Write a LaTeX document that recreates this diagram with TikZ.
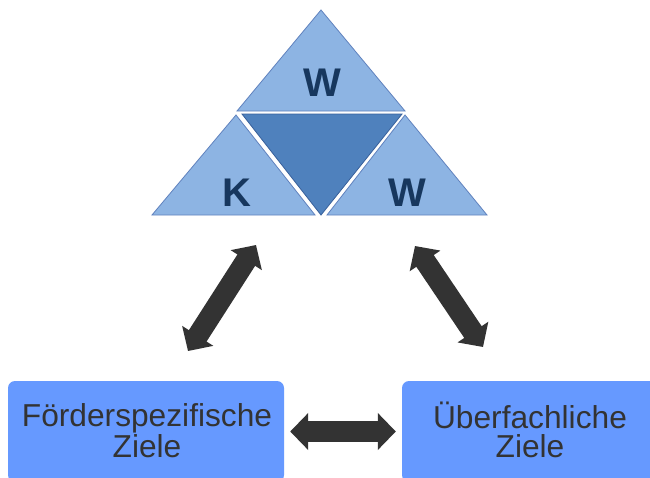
\documentclass[tikz,border=0pt]{standalone}
\usepackage{fontspec}
\setmainfont{Liberation Sans}
\usetikzlibrary{arrows.meta}
\definecolor{trilight}{RGB}{141,180,227}
\definecolor{trilightedge}{RGB}{96,130,190}
\definecolor{tridark}{RGB}{79,129,189}
\definecolor{tridarkedge}{RGB}{56,96,155}
\definecolor{letter}{RGB}{23,55,94}
\definecolor{boxblue}{RGB}{102,153,255}
\definecolor{arrowgrey}{RGB}{51,51,51}
\definecolor{textgrey}{RGB}{51,51,51}
\tikzset{
  lighttri/.style={fill=trilight, draw=trilightedge, line width=0.8pt, line join=miter},
  darktri/.style={fill=tridark, draw=tridarkedge, line width=0.8pt, line join=miter},
  letterlabel/.style={font=\fontsize{40}{40}\selectfont\bfseries, text=letter, inner sep=0pt},
  goalbox/.style={fill=boxblue, rounded corners=7pt, minimum height=101pt, inner sep=0pt},
  goaltext/.style={font=\fontsize{31.7}{29.4}\selectfont, text=textgrey, align=center, inner sep=0pt, anchor=base},
  blockarrow/.style={draw=arrowgrey, line width=21pt,
    {Triangle[width=36pt,length=18pt]}-{Triangle[width=36pt,length=18pt]}, fill=arrowgrey}
}
\begin{document}
\begin{tikzpicture}[x=1pt,y=-1pt]
\useasboundingbox (0,0) rectangle (650,477);
\fill[white] (0,0) rectangle (650,477);
% triangles
\draw[lighttri] (321,10) -- (405,111) -- (237,111) -- cycle;
\draw[lighttri] (236,115) -- (315,215) -- (152,215) -- cycle;
\draw[lighttri] (405,115) -- (487,215) -- (327,215) -- cycle;
\draw[darktri] (242,114) -- (402,114) -- (321,215) -- cycle;
\node[letterlabel] (wtop) at (322,83) {W};
\node[letterlabel] (kleft) at (237,193) {K};
\node[letterlabel] (wright) at (407,193) {W};
% boxes
\node[goalbox, minimum width=276pt] (fs) at (146,431.5) {};
\node[goalbox, minimum width=256pt] (uf) at (530,431.5) {};
\node[goaltext] (fstext) at (147,457.5) {Förderspezifische\\Ziele};
\node[goaltext] (uftext) at (530,457.5) {Überfachliche\\Ziele};
% arrow end points
\coordinate (l1) at (188,351);
\coordinate (l2) at (256,245);
\coordinate (r1) at (415,246);
\coordinate (r2) at (483,347);
\draw[blockarrow] (l1) -- (l2);
\draw[blockarrow] (r1) -- (r2);
\draw[blockarrow, shorten <=6pt, shorten >=6pt] (fs.east) -- (uf.west);
\end{tikzpicture}
\end{document}
